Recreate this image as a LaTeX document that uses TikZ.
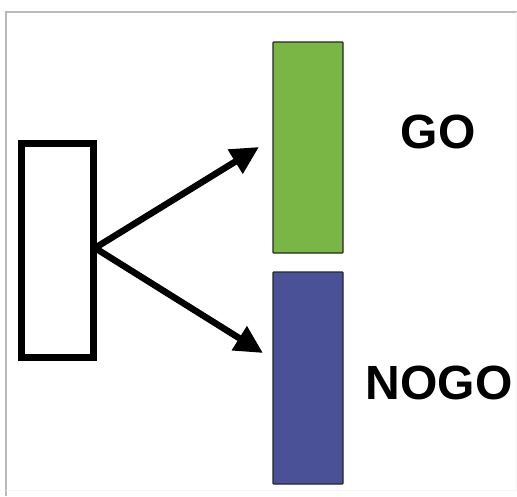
\documentclass[tikz,border=0pt]{standalone}
\usepackage{fontspec}
\setmainfont{Liberation Sans}
\usetikzlibrary{arrows.meta}
\definecolor{gobar}{RGB}{122,182,69}
\definecolor{nogobar}{RGB}{74,81,150}
\definecolor{framegray}{RGB}{185,185,185}
\tikzset{
  srcbox/.style={draw=black, line width=7pt, fill=white, inner sep=0pt,
    minimum width=72pt, minimum height=214pt},
  bar/.style={draw=black!85, line width=1.3pt, inner sep=0pt,
    minimum width=70pt, minimum height=211pt, rounded corners=0.8pt},
  label/.style={font=\bfseries\fontsize{48}{50}\selectfont, anchor=base, inner sep=0pt},
  flow/.style={line width=6.5pt, -{Triangle[length=28pt,width=27pt]}}
}
\begin{document}
\begin{tikzpicture}[x=1pt, y=-1pt]
  \useasboundingbox (0,0) rectangle (517,496);
  \fill[white] (0,0) rectangle (517,496);
  % page frame
  \draw[framegray, line width=1.2pt] (517,12) -- (6,12) -- (6,496);
  \draw[black!4, line width=1pt] (516,12) -- (516,490) -- (6,490);

  % source box and the two outcome bars
  \node[srcbox] (src) at (57.5,250.5) {};
  \node[bar, fill=gobar] (go) at (308,147.5) {};
  \node[bar, fill=nogobar, minimum height=212pt] (nogo) at (308,378) {};

  % labels
  \node[label] (golabel) at (438,148) {GO};
  \node[label] (nogolabel) at (439,399) {NOGO};

  % arrows
  \coordinate (split) at (95,248);
  \coordinate (tipgo) at (259,147);
  \coordinate (tipnogo) at (263,353);
  \draw[flow] (split) -- (tipgo);
  \draw[flow] (split) -- (tipnogo);
\end{tikzpicture}
\end{document}
